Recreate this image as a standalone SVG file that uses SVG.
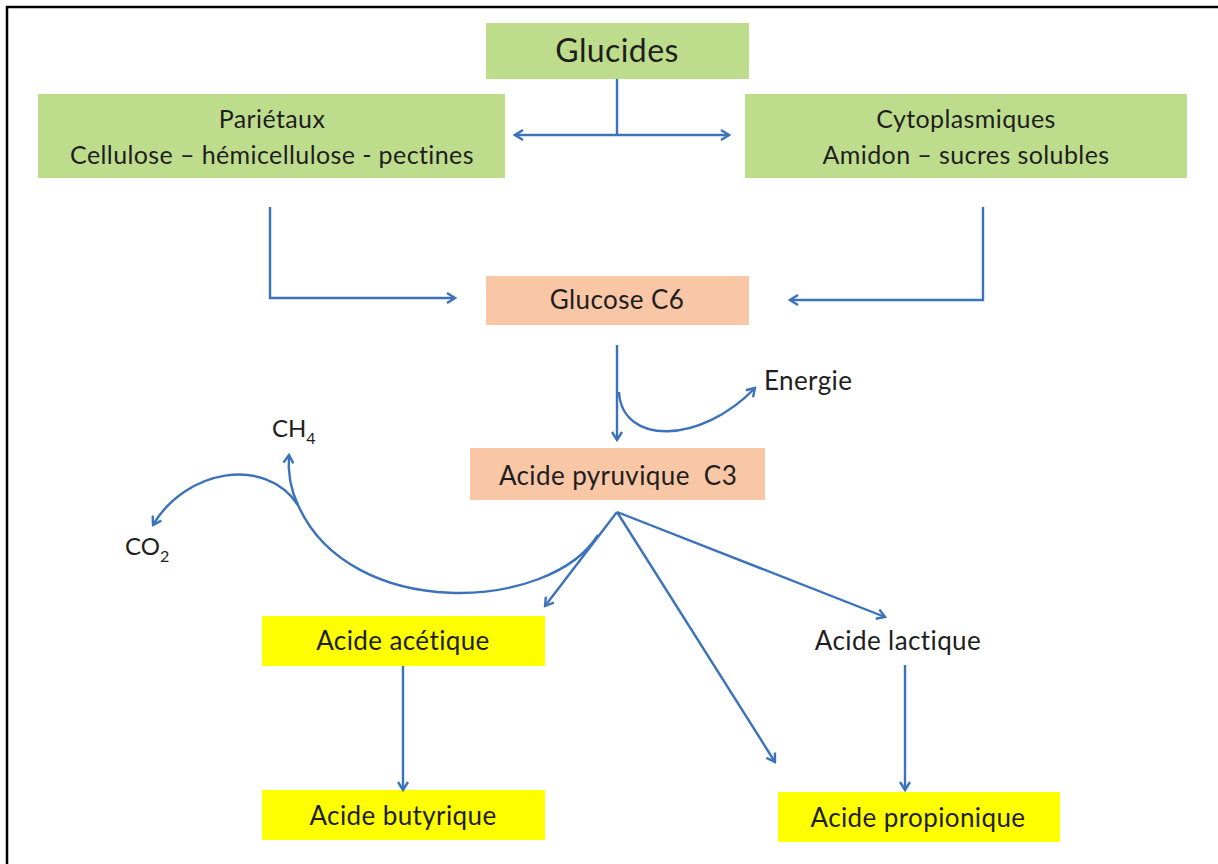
<svg xmlns="http://www.w3.org/2000/svg" width="1218" height="864" viewBox="0 0 1218 864">
  <defs>
    <marker id="arr" viewBox="0 0 12 12" refX="10" refY="6" markerWidth="12" markerHeight="12" markerUnits="userSpaceOnUse" orient="auto-start-reverse">
      <path d="M2,1 L10,6 L2,11" fill="none" stroke="#3C72BA" stroke-width="2.4" stroke-linejoin="miter"/>
    </marker>
  </defs>
  <style>
    .green { fill: #BEDD8C; }
    .salmon { fill: #F9C6A6; }
    .yellow { fill: #FFFF00; }
    text { font-family: Lato, "Liberation Sans", sans-serif; fill: #1E1E1E; text-anchor: middle; font-size: 26px; letter-spacing: 0.4px; }
    .big { font-size: 32px; }
    .mid { font-size: 25px; }
    .chem { font-size: 24px; letter-spacing: 0; }
    .left { text-anchor: start; }
    .sub { font-size: 16px; }
    .link { fill: none; stroke: #3C72BA; stroke-width: 2.4; }
    .arrow { marker-end: url(#arr); }
  </style>
  <rect width="1218" height="864" fill="#FFFFFF"/>
  <!-- frame: only the top and left edges fall inside the canvas -->
  <path d="M7,864 V7 H1218" fill="none" stroke="#000" stroke-width="2.5"/>

  <g id="glucides">
    <rect class="green" x="486" y="23" width="263" height="56"/>
    <text class="big" x="617" y="62">Glucides</text>
  </g>
  <g id="parietaux">
    <rect class="green" x="38" y="94" width="467" height="84"/>
    <text class="mid" x="272" y="128">Pariétaux</text>
    <text class="mid" x="272" y="164">Cellulose – hémicellulose - pectines</text>
  </g>
  <g id="cytoplasmiques">
    <rect class="green" x="745" y="94" width="442" height="84"/>
    <text class="mid" x="966" y="128">Cytoplasmiques</text>
    <text class="mid" x="966" y="164">Amidon – sucres solubles</text>
  </g>
  <g id="glucose">
    <rect class="salmon" x="486" y="276" width="263" height="49"/>
    <text x="617" y="309">Glucose C6</text>
  </g>
  <g id="energie">
    <text class="left" x="764" y="390">Energie</text>
  </g>
  <g id="pyruvique">
    <rect class="salmon" x="470" y="448" width="295" height="52"/>
    <text x="618" y="485" xml:space="preserve">Acide pyruvique  C3</text>
  </g>
  <g id="ch4">
    <text class="left chem" x="272" y="437">CH<tspan class="sub" dy="7">4</tspan></text>
  </g>
  <g id="co2">
    <text class="left chem" x="125" y="555">CO<tspan class="sub" dy="7">2</tspan></text>
  </g>
  <g id="acetique">
    <rect class="yellow" x="262" y="616" width="283" height="50"/>
    <text x="403" y="650">Acide acétique</text>
  </g>
  <g id="lactique">
    <text x="898" y="650">Acide lactique</text>
  </g>
  <g id="butyrique">
    <rect class="yellow" x="262" y="790" width="283" height="50"/>
    <text x="403" y="825">Acide butyrique</text>
  </g>
  <g id="propionique">
    <rect class="yellow" x="778" y="792" width="282" height="50"/>
    <text x="918" y="827">Acide propionique</text>
  </g>

  <g id="connectors">
    <path class="link" d="M617,79 V135"/>
    <path class="link" d="M617,135 H729" marker-end="url(#arr)"/>
    <path class="link" d="M617,135 H515" marker-end="url(#arr)"/>
    <path class="link arrow" d="M270,207 V298 H455"/>
    <path class="link arrow" d="M983,207 V300 H790"/>
    <path class="link arrow" d="M617,345 V440"/>
    <path class="link arrow" d="M619,392 C622,445 700,445 755,388"/>
    <path class="link arrow" d="M617,512 L545,606"/>
    <path class="link arrow" d="M617,512 L775,762"/>
    <path class="link arrow" d="M617,512 L885,617"/>
    <path class="link arrow" d="M598,535 C550,612 350,622 298,505 C265,455 185,470 153,525"/>
    <path class="link arrow" d="M298,505 Q287,482 289,455"/>
    <path class="link arrow" d="M403,666 V790"/>
    <path class="link arrow" d="M905,665 V790"/>
  </g>
</svg>
